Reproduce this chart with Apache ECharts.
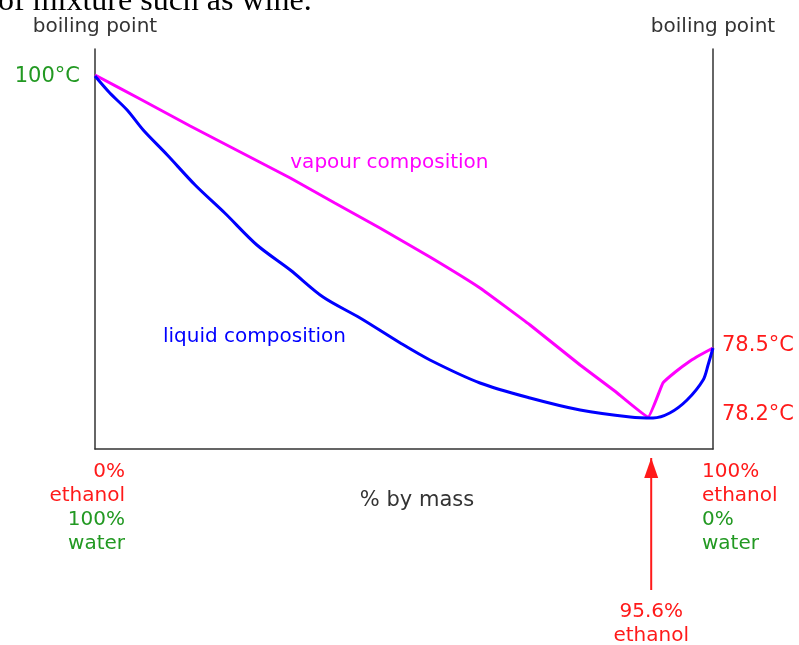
<!DOCTYPE html>
<html>
<head>
<meta charset="utf-8">
<script src="https://cdn.jsdelivr.net/npm/echarts@6/dist/echarts.min.js"></script>
<style>
  html, body { margin: 0; padding: 0; background: #fff; }
  #chart { width: 799px; height: 645px; }
</style>
</head>
<body>
<div id="chart"></div>
<script>
// schematic positions: x = share of the axis width (0..100), y = share of the axis height (0..100)
const vapourX = [0, 7.3, 15.4, 23.5, 31.6, 38.8, 46.1, 54.2, 62.3, 70.4, 78.5, 84.1, 89.5, 91.9, 93.9, 96.3, 97.9, 100];
const vapourY = [93.5, 87.5, 80.75, 74.25, 67.75, 61.5, 55.25, 48, 40.25, 31, 21, 14.5, 8.0, 16.5, 19.25, 22, 23.5, 25.25];

const liquidX = [0, 2.4, 5.2, 7.8, 11.7, 16.2, 21.0, 26.2, 31.6, 36.9, 42.9, 49.4, 54.2, 62.3, 70.4, 78.5, 86.6, 90.3, 93.0, 95.8, 98.4, 99.2, 100];
const liquidY = [93.25, 89, 84.75, 79.75, 73.5, 66, 59, 51, 44.75, 38, 32.75, 26.5, 22.25, 16.5, 12.75, 9.75, 8, 7.75, 9, 12.25, 17.25, 21, 25.25];

// temperature tick labels and where they sit on the height scale
const tempLabels = ['100°C', '78.5°C', '78.2°C'];
const tempLevels = [93, 25.75, 8.5];

// azeotrope marker
const azeoX = 90;
const azeoArrowY = [-35.25, -2.25];
const azeoLabel = '95.6%\nethanol';

const RED = '#ff1a1a';
const GREEN = '#229922';
const FONT = 'DejaVu Sans';

const zip = (xs, ys) => xs.map((x, i) => [x, ys[i]]);

function note(value, text, align, vAlign, offset, color, size) {
    return {
        value: value,
        label: {
            show: true,
            position: 'inside',
            formatter: text,
            align: align,
            verticalAlign: vAlign,
            offset: offset,
            color: color,
            opacity: 1,
            textBorderWidth: 0,
            fontFamily: FONT,
            fontSize: size || 20,
            lineHeight: 24
        }
    };
}

const notes = [
    note([0, tempLevels[0]], tempLabels[0], 'right', 'middle', [-15, 0], GREEN, 21),
    note([100, tempLevels[1]], tempLabels[1], 'left', 'middle', [9, 0], RED, 21),
    note([100, tempLevels[2]], tempLabels[2], 'left', 'middle', [9, 0], RED, 21),
    note([31.6, 71.5], 'vapour composition', 'left', 'middle', [0, 0], '#ff00ff'),
    note([11.0, 28], 'liquid composition', 'left', 'middle', [0, 0], '#0000ff'),
    note([azeoX, azeoArrowY[0]], azeoLabel, 'center', 'top', [0, 10], RED)
];
// bottom corner labels: two colours in one block
const leftEnd = note([0, 0], '{r|0%}\n{r|ethanol}\n{g|100%}\n{g|water}', 'right', 'top', [30, 11], RED);
const rightEnd = note([100, 0], '{r|100%}\n{r|ethanol}\n{g|0%}\n{g|water}', 'left', 'top', [-11, 11], RED);
[leftEnd, rightEnd].forEach(n => {
    n.label.rich = {
        r: { color: RED, fontFamily: FONT, fontSize: 20, lineHeight: 24 },
        g: { color: GREEN, fontFamily: FONT, fontSize: 20, lineHeight: 24 }
    };
    notes.push(n);
});

const chart = echarts.init(document.getElementById('chart'));

const axisLine = { show: true, lineStyle: { color: '#333', width: 1.5 } };
const yBase = {
    type: 'value', min: 0, max: 100,
    axisLine: axisLine, axisTick: { show: false }, axisLabel: { show: false }, splitLine: { show: false },
    name: 'boiling point', nameLocation: 'end', nameGap: 12,
    nameTextStyle: { color: '#333', fontFamily: FONT, fontSize: 20 }
};

chart.setOption({
    animation: false,
    grid: { left: 95, right: 86, top: 49, bottom: 196 },
    xAxis: {
        type: 'value', min: 0, max: 100,
        axisLine: axisLine, axisTick: { show: false }, axisLabel: { show: false }, splitLine: { show: false },
        name: '% by mass', nameLocation: 'middle', nameGap: 41,
        nameTextStyle: { color: '#333', fontFamily: FONT, fontSize: 21, padding: [0, 0, 0, 26] }
    },
    yAxis: [
        Object.assign({}, yBase, { position: 'left' }),
        Object.assign({}, yBase, { position: 'right' })
    ],
    graphic: [{
        type: 'text', left: -2, top: -14,
        style: { text: 'of mixture such as wine.', font: '32px "Liberation Serif"', fill: '#000' }
    }],
    series: [
        {
            name: 'vapour', type: 'line', silent: true, symbol: 'none', smooth: 0.1,
            data: zip(vapourX, vapourY),
            lineStyle: { color: '#ff00ff', width: 3 }
        },
        {
            name: 'liquid', type: 'line', silent: true, symbol: 'none', smooth: 0.3,
            data: zip(liquidX, liquidY),
            lineStyle: { color: '#0000ff', width: 3 }
        },
        {
            name: 'azeotrope', type: 'line', silent: true, clip: false,
            data: [
                { value: [azeoX, azeoArrowY[0]], symbol: 'none' },
                { value: [azeoX, azeoArrowY[1]], symbol: 'triangle', symbolSize: [14, 20], symbolOffset: [0, '50%'] }
            ],
            showSymbol: true,
            itemStyle: { color: RED },
            lineStyle: { color: RED, width: 2 }
        },
        {
            name: 'notes', type: 'scatter', silent: true, clip: false,
            symbol: 'circle', symbolSize: 0,
            itemStyle: { color: '#fff' },
            data: notes
        }
    ]
});
</script>
</body>
</html>
